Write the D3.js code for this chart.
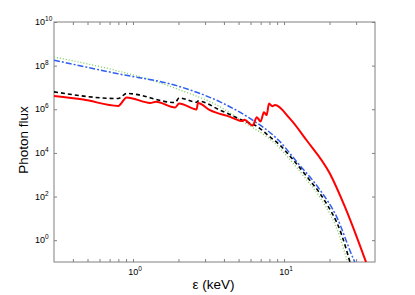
<!DOCTYPE html>
<html>
<head>
<meta charset="utf-8">
<script src="https://cdn.jsdelivr.net/npm/d3@7"></script>
<style>
  body { margin: 0; background: #fff; }
  text { font-family: "Liberation Sans", Arial, sans-serif; fill: #000; }
</style>
</head>
<body>
<svg id="chart" width="415" height="295"></svg>
<script>
// tick values
const majorX = [1, 10];
const minorX = [0.4, 0.5, 0.6, 0.7, 0.8, 0.9, 2, 3, 4, 5, 6, 7, 8, 9, 20, 30];
const majorY = [1e0, 1e2, 1e4, 1e6, 1e8, 1e10];

// red solid
const redE = [0.3, 0.469, 0.799, 0.908, 1.30, 1.42, 1.90, 2.02, 2.64, 2.69, 3.23, 4.39, 5.3, 5.45, 6.2, 6.6, 7.0, 7.36, 7.67, 7.95, 8.36, 8.71, 10.9, 14.1, 20.1, 25.3, 34.9];
const redF = [4.1e6, 2.8e6, 1.43e6, 3.5e6, 1.95e6, 2.2e6, 1.2e6, 1.84e6, 9.8e5, 1.95e6, 9.1e5, 4.5e5, 2.9e5, 3.3e5, 1.8e5, 4.3e5, 2.75e5, 7.4e5, 5.4e5, 1.84e6, 1.38e6, 1.55e6, 3.8e5, 3.8e4, 1140, 33.6, 0.098];

// black dashed
const blackE = [0.3, 0.799, 0.908, 1.90, 2.02, 2.64, 2.69, 3.77, 5.66, 6.42, 8.07, 9.4, 11.3, 14.5, 18.2, 24.1, 27.3];
const blackF = [6.3e6, 3.1e6, 5.3e6, 2.04e6, 3.3e6, 2.1e6, 2.4e6, 9.1e5, 2.6e5, 1.86e5, 5.4e4, 2.25e4, 5.5e3, 670, 81, 1.7, 0.1];

// blue dash-dot
const blueE = [0.3, 0.78, 2.0, 3.77, 5.95, 9.2, 12.4, 16.9, 22.3, 28.7, 29.4];
const blueF = [1.78e8, 4.36e7, 1.14e7, 2.18e6, 3.8e5, 3.8e4, 3270, 250, 11.7, 0.145, 0.1];

// green dotted
const greenE = [0.3, 2.0, 3.77, 5.5, 7.7, 9.0, 10.8, 13.9, 17.5, 23.2, 26.3];
const greenF = [2.5e8, 8.1e6, 1.3e6, 2.4e5, 5.4e4, 2.2e4, 5.5e3, 670, 81, 1.7, 0.1];

const svg = d3.select("#chart");
const margin = { top: 22, right: 40, bottom: 33, left: 54 };
const width = +svg.attr("width") - margin.left - margin.right;
const height = +svg.attr("height") - margin.top - margin.bottom;
const g = svg.append("g")
    .attr("transform", "translate(" + margin.left + "," + margin.top + ")");

const x = d3.scaleLog().domain([0.3, 40]).range([0, width]);
const y = d3.scaleLog().domain([0.1, 1e10]).range([height, 0]);

const axisColor = "#808080";

// ticks pointing inward on all four sides
function styleAxis(sel) {
    sel.select(".domain").remove();
    sel.selectAll("line").attr("stroke", axisColor);
    sel.selectAll("text").remove();
}
const allX = minorX.concat(majorX);
g.append("g").attr("transform", "translate(0," + height + ")")
    .call(d3.axisBottom(x).tickValues(allX).tickSize(-3)).call(styleAxis);
g.append("g")
    .call(d3.axisTop(x).tickValues(allX).tickSize(-3)).call(styleAxis);
g.append("g")
    .call(d3.axisLeft(y).tickValues(majorY).tickSize(-3)).call(styleAxis);
g.append("g").attr("transform", "translate(" + width + ",0)")
    .call(d3.axisRight(y).tickValues(majorY).tickSize(-3)).call(styleAxis);

// box
g.append("rect")
    .attr("width", width).attr("height", height)
    .attr("fill", "none").attr("stroke", axisColor).attr("stroke-width", 1);

// tick labels 10^n
const xl = g.selectAll(".xlab").data(majorX).enter().append("text")
    .attr("class", "xlab")
    .attr("x", d => x(d) + 2)
    .attr("y", height + 13)
    .attr("text-anchor", "middle")
    .attr("font-size", "9px")
    .text("10");
xl.append("tspan").attr("dy", -4).attr("font-size", "6.5px")
    .text(d => Math.round(Math.log10(d)));

const yl = g.selectAll(".ylab").data(majorY).enter().append("text")
    .attr("class", "ylab")
    .attr("x", -19)
    .attr("y", d => y(d) + 3)
    .attr("font-size", "9px")
    .text("10");
yl.append("tspan").attr("dy", -4).attr("font-size", "6.5px")
    .text(d => Math.round(Math.log10(d)));

// axis titles
svg.append("text")
    .attr("x", margin.left + width / 2 - 1)
    .attr("y", 289)
    .attr("text-anchor", "middle")
    .attr("font-size", "13.5px")
    .text("ε (keV)");
svg.append("text")
    .attr("transform", "translate(28," + (margin.top + height / 2 - 2) + ") rotate(-90)")
    .attr("text-anchor", "middle")
    .attr("font-size", "13.5px")
    .text("Photon flux");

// curves
g.append("clipPath").attr("id", "clip")
    .append("rect").attr("width", width).attr("height", height);

const line = d3.line()
    .x(d => x(d[0]))
    .y(d => y(d[1]))
    .curve(d3.curveMonotoneX);

const zip = (a, b) => a.map((v, i) => [v, b[i]]);

const series = [
    { data: zip(greenE, greenF), color: "#7ccd5a", w: 1.3, dash: "1,2" },
    { data: zip(blueE, blueF), color: "#2f5ef0", w: 1.5, dash: "6,2,2,2" },
    { data: zip(blackE, blackF), color: "#000000", w: 1.6, dash: "4,3" },
    { data: zip(redE, redF), color: "#ff0000", w: 2, dash: null }
];

series.forEach(s => {
    g.append("path")
        .attr("clip-path", "url(#clip)")
        .attr("fill", "none")
        .attr("stroke", s.color)
        .attr("stroke-width", s.w)
        .attr("stroke-dasharray", s.dash)
        .attr("d", line(s.data));
});
</script>
</body>
</html>
